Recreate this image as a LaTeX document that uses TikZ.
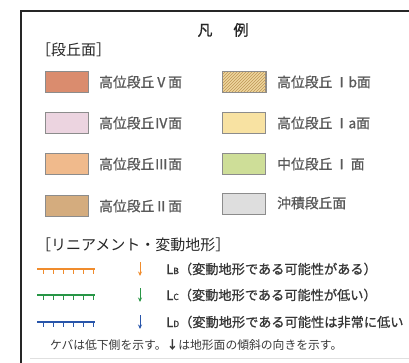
\documentclass[tikz,border=0pt]{standalone}
\usepackage{fontspec}
\setmainfont{Noto Sans CJK JP}
\newfontfamily\jpsemi{Noto Sans CJK JP}[FakeBold=1.0]
\usetikzlibrary{patterns,arrows.meta}
\definecolor{cV}{RGB}{218,140,110}
\definecolor{cIV}{RGB}{236,212,224}
\definecolor{cIII}{RGB}{240,186,140}
\definecolor{cII}{RGB}{212,172,126}
\definecolor{cIb}{RGB}{238,214,158}
\definecolor{cIbh}{RGB}{190,150,85}
\definecolor{cIa}{RGB}{248,226,162}
\definecolor{cMI}{RGB}{206,222,152}
\definecolor{cAl}{RGB}{222,222,222}
\definecolor{lorange}{RGB}{240,140,45}
\definecolor{lgreen}{RGB}{40,150,70}
\definecolor{lblue}{RGB}{40,85,170}
\definecolor{txt}{RGB}{55,55,55}
\begin{document}
\begin{tikzpicture}[x=1pt,y=-1pt,
  swatch/.style={draw=black!45, line width=0.7pt, minimum width=43pt, minimum height=21pt, inner sep=0pt},
  lbl/.style={anchor=west, inner sep=0pt, text=black!65, font=\jpsemi\fontsize{13.8}{14}\selectfont},
  head/.style={anchor=west, inner sep=0pt, text=black!85, font=\fontsize{15}{15}\selectfont},
  lin/.style={anchor=west, inner sep=0pt, text=txt, font=\jpsemi\fontsize{13.2}{13.2}\selectfont},
  hline/.style={line width=1.4pt},
  tick/.style={line width=1pt},
  darr/.style={line width=0.9pt, -{Stealth[length=4.5pt,width=4pt]}}]
\useasboundingbox (0,0) rectangle (409,363);
% frame
\coordinate (fbl) at (21,363);
\coordinate (ftl) at (21,11);
\coordinate (ftr) at (412,11);
\draw[black!85, line width=1.3pt] (fbl) -- (ftl) -- (ftr);
% title
\node[inner sep=0pt, text=black!85, font=\jpsemi\fontsize{15}{15}\selectfont] (title) at (223,30) {凡\hspace{21pt}例};
\node[head] (h1) at (36,50) {［段丘面］};
% swatches left
\node[swatch, fill=cV] (s1) at (66.5,82) {};
\node[swatch, fill=cIV] (s2) at (66.5,123) {};
\node[swatch, fill=cIII] (s3) at (66.5,164) {};
\node[swatch, fill=cII] (s4) at (66.5,206) {};
\node[lbl] (t1) at (99,82) {高位段丘Ⅴ面};
\node[lbl] (t2) at (99,123) {高位段丘Ⅳ面};
\node[lbl] (t3) at (99,164) {高位段丘Ⅲ面};
\node[lbl] (t4) at (99,206) {高位段丘Ⅱ面};
% swatches right
\node[swatch, fill=cIb] (r1) at (244,82) {};
\fill[pattern=north east lines, pattern color=cIbh] (r1.south west) rectangle (r1.north east);
\draw[black!45, line width=0.7pt] (r1.south west) rectangle (r1.north east);
\node[swatch, fill=cIa] (r2) at (244,123) {};
\node[swatch, fill=cMI] (r3) at (244,164) {};
\node[swatch, fill=cAl] (r4) at (244,204) {};
\node[lbl] (u1) at (277,82) {高位段丘\,Ⅰb面};
\node[lbl] (u2) at (277,123) {高位段丘\,Ⅰa面};
\node[lbl] (u3) at (277,164) {中位段丘\,Ⅰ\,面};
\node[lbl] (u4) at (277,203) {沖積段丘面};
% lineament header
\node[head] (h2) at (36,245) {［リニアメント・変動地形］};
% lines
\foreach \yy/\cc/\nm in {269/lorange/a,295/lgreen/b,322/lblue/c}{
  \coordinate (\nm0) at (37,\yy);
  \coordinate (\nm1) at (95,\yy);
  \draw[hline,\cc] (\nm0) -- (\nm1);
  \foreach \xx in {43,53,...,93}{\draw[tick,\cc] (\xx,\yy) -- (\xx,\yy+4.5);}
  \coordinate (\nm2) at (140,\yy-7);
  \coordinate (\nm3) at (140,\yy+7);
  \draw[darr,\cc] (\nm2) -- (\nm3);
}
\node[lin] (l1) at (166,269) {L{\fontsize{8.5}{8.5}\selectfont B}（変動地形である可能性がある）};
\node[lin] (l2) at (166,295) {L{\fontsize{8.5}{8.5}\selectfont C}（変動地形である可能性が低い）};
\node[lin] (l3) at (166,322) {L{\fontsize{8.5}{8.5}\selectfont D}（変動地形である可能性は非常に低い};
\node[anchor=west, inner sep=0pt, text=txt, font=\fontsize{11.8}{12}\selectfont] (note) at (50,345) {ケバは低下側を示す。\textbf{↓}は地形面の傾斜の向きを示す。};
\coordinate (g0) at (30,358);
\coordinate (g1) at (409,358);
\draw[black!12, line width=0.8pt] (g0) -- (g1);
\end{tikzpicture}
\end{document}
